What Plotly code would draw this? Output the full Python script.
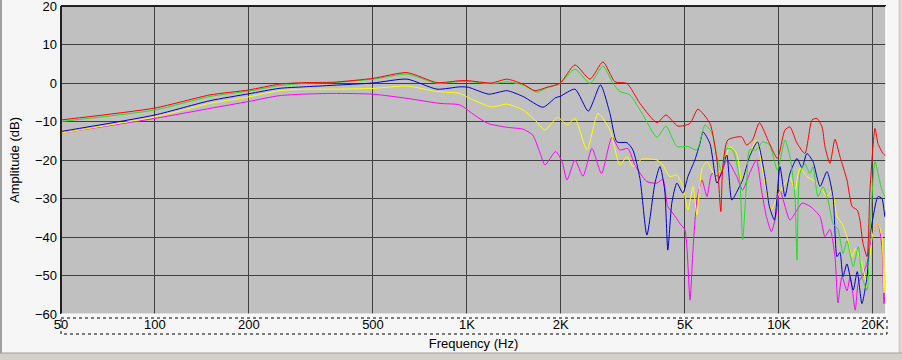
import plotly.graph_objects as go

# ---- data (frequency in Hz, amplitude in dB) ----
red_f = [50, 100, 150, 200, 250, 300, 372, 500, 643, 802, 950, 1010, 1198, 1344, 1514, 1652, 1808, 1988,
         2220, 2481, 2730, 2982, 3259, 3587, 4067, 4346, 4748, 5190, 5500, 6013, 6330, 6515, 6612, 6860,
         7597, 7880, 8234, 8664, 9327, 9891, 10460, 10850, 11430, 12120, 12770, 13250, 13750, 14050, 14580,
         15130, 15700, 16530, 17180, 17830, 18190, 18600, 19170, 19590, 20330, 20780, 21560, 22050]
red_db = [-9.6, -6.5, -3.1, -1.8, -0.3, 0.1, 0.2, 1.2, 2.7, 0.1, 0.6, 0.6, 0.0, 1.0, -0.3, -2.0, -1.1, -0.1,
          4.7, 1.0, 5.5, 0.3, -0.1, -5.3, -10.3, -8.3, -11.2, -10.5, -6.8, -10.5, -20.0, -33.4, -21.7, -14.8,
          -14.0, -16.1, -14.8, -10.3, -15.7, -19.6, -12.2, -11.4, -15.6, -18.3, -9.6, -9.2, -11.4, -16.5, -20.9,
          -14.6, -19.1, -25.2, -32.1, -33.0, -35.6, -41.6, -45.1, -27.8, -11.8, -15.7, -18.3, -19.0]

green_f = [50, 100, 150, 200, 250, 300, 372, 500, 643, 802, 950, 1010, 1198, 1344, 1514, 1677, 1808, 1988,
           2220, 2481, 2730, 2938, 3094, 3331, 3667, 4067, 4346, 4710, 5111, 5460, 5797, 6102, 6330, 6563,
           6810, 7117, 7487, 7652, 7880, 8055, 8475, 8858, 9327, 9891, 10460, 10850, 11260, 11430, 11680,
           12120, 12580, 12860, 13350, 13850, 14370, 14910, 15470, 16050, 16530, 17310, 17960, 18460, 19170,
           19590, 20330, 20780, 21400, 22050]
green_db = [-10.0, -7.0, -3.5, -2.1, -0.7, -0.1, 0.1, 1.0, 2.3, -0.1, 0.4, 0.4, -0.2, 0.3, -0.5, -2.4, -1.2, -0.1,
            3.6, -0.1, 4.4, -0.1, -2.2, -3.1, -8.3, -14.1, -11.2, -16.5, -16.5, -17.4, -10.9, -13.0, -19.1, -23.0,
            -17.0, -17.4, -25.2, -40.8, -26.0, -17.4, -17.4, -15.3, -16.0, -22.6, -14.8, -19.1, -29.5, -46.0, -23.5,
            -21.0, -23.5, -21.7, -29.5, -26.9, -30.4, -36.5, -38.0, -44.3, -41.0, -47.7, -42.5, -50.3, -53.8,
            -38.2, -20.4, -23.5, -27.8, -30.0]

blue_f = [50, 100, 150, 200, 250, 300, 372, 500, 643, 802, 950, 1010, 1176, 1344, 1514, 1754, 1925, 1988,
          2220, 2450, 2680, 2874, 3026, 3259, 3405, 3587, 3776, 4007, 4158, 4306, 4406, 4538, 4710, 4925, 5111,
          5380, 5585, 5712, 6013, 6330, 6563, 6810, 7065, 7382, 7652, 8055, 8537, 8989, 9327, 9676, 10080,
          10460, 10850, 11430, 11860, 12300, 12860, 13550, 14260, 14910, 15360, 15700, 16050, 16530, 17310,
          17830, 18460, 19170, 19590, 20030, 20780, 21400, 21880, 22050]
blue_db = [-12.6, -8.3, -4.6, -2.8, -1.4, -1.0, -0.6, 0.0, 1.0, -1.6, -1.0, -1.1, -2.9, -2.0, -3.5, -6.3, -3.8, -3.5,
           -1.6, -7.3, -0.5, -7.9, -15.3, -15.5, -17.4, -24.8, -39.5, -26.0, -21.7, -27.8, -43.4, -31.2, -26.0,
           -28.6, -24.3, -20.0, -15.7, -12.7, -15.7, -26.0, -23.0, -18.7, -30.4, -27.8, -25.2, -19.1, -15.3, -23.5,
           -32.1, -35.6, -21.7, -29.5, -23.5, -19.6, -22.0, -18.3, -20.4, -26.9, -23.0, -29.5, -45.1, -44.0, -50.3,
           -47.0, -53.8, -49.0, -57.3, -50.3, -39.9, -35.0, -29.5, -30.0, -34.7, -33.0]

yellow_f = [50, 100, 150, 200, 250, 300, 372, 500, 643, 802, 950, 1010, 1198, 1344, 1514, 1652, 1780, 1956,
            2094, 2220, 2426, 2632, 2874, 3094, 3259, 3405, 3640, 4067, 4247, 4472, 4710, 4925, 5111, 5305, 5460,
            5670, 5883, 6236, 6612, 6962, 7328, 7597, 7938, 8475, 8793, 9190, 9466, 9891, 10460, 10850, 11260,
            11680, 12300, 12860, 13550, 14260, 14800, 15360, 15930, 16530, 17180, 17570, 18460, 19170, 19590,
            20030, 20780, 21400, 21720, 22050]
yellow_db = [-13.0, -8.8, -5.3, -3.6, -2.0, -1.6, -1.6, -1.4, -0.8, -2.2, -2.7, -3.8, -6.2, -5.5, -7.0, -9.6, -12.2,
             -8.9, -10.9, -9.2, -17.4, -7.9, -12.2, -21.3, -19.1, -21.7, -19.8, -20.0, -21.3, -24.3, -23.9, -26.9,
             -33.0, -26.9, -34.3, -22.2, -20.4, -23.9, -21.7, -16.5, -18.3, -25.6, -20.4, -14.8, -20.9, -29.5, -33.0,
             -29.5, -26.0, -24.3, -27.8, -22.2, -24.3, -25.2, -26.9, -29.5, -27.8, -34.7, -36.5, -39.9, -45.1, -43.0,
             -46.8, -52.9, -45.0, -39.0, -36.5, -40.0, -54.5, -38.0]

magenta_f = [50, 100, 150, 200, 250, 300, 372, 500, 643, 820, 950, 1056, 1167, 1344, 1514, 1625, 1718, 1780,
             1925, 2018, 2094, 2220, 2356, 2517, 2700, 2917, 3094, 3283, 3455, 3776, 4067, 4247, 4406, 4571,
             4818, 5000, 5190, 5305, 5460, 5670, 5883, 6102, 6468, 6810, 7328, 7652, 8055, 8475, 8793, 9123,
             9466, 9817, 10080, 10850, 11430, 11860, 12580, 13550, 14050, 14580, 15130, 15470, 15930, 16530,
             16930, 17570, 17960, 18460, 19170, 19880, 20780, 21400, 21720, 22050]
magenta_db = [-13.0, -9.2, -6.6, -4.8, -3.3, -2.9, -2.7, -2.9, -4.0, -5.3, -5.7, -8.3, -10.5, -11.5, -12.0, -13.5,
              -18.3, -21.3, -17.8, -20.4, -25.2, -20.0, -24.2, -17.0, -23.5, -14.1, -17.4, -17.0, -21.3, -25.6,
              -26.0, -25.0, -32.1, -33.8, -36.5, -38.2, -56.4, -43.4, -30.4, -25.2, -29.5, -23.5, -24.3, -20.0,
              -24.3, -27.8, -23.5, -20.0, -27.8, -34.7, -38.6, -33.8, -27.8, -35.6, -33.0, -31.2, -32.0, -34.7,
              -39.9, -38.0, -45.1, -57.1, -50.3, -54.0, -50.3, -59.0, -52.0, -50.3, -46.8, -39.9, -36.5, -42.5,
              -57.3, -50.0]

x_tickvals = [50, 100, 200, 500, 1000, 2000, 5000, 10000, 20000]
x_ticktext = ["50", "100", "200", "500", "1K", "2K", "5K", "10K", "20K"]
y_tickvals = [20, 10, 0, -10, -20, -30, -40, -50, -60]

series = [
    ("magenta", magenta_f, magenta_db, "#ff00ff"),
    ("yellow", yellow_f, yellow_db, "#ffff00"),
    ("blue", blue_f, blue_db, "#0000d0"),
    ("green", green_f, green_db, "#22e022"),
    ("red", red_f, red_db, "#ff0000"),
]

fig = go.Figure()
for name, f, db, col in series:
    fig.add_trace(go.Scatter(x=f, y=db, mode="lines", name=name,
                             line=dict(color=col, width=1, shape="spline", smoothing=0.6),
                             showlegend=False))

FONT = "Liberation Sans, Arial, sans-serif"
L, R, T, B, W, H = 61, 16, 6, 46, 902, 360
pw, ph = W - L - R, H - T - B


def px(x):
    return (x - L) / pw


def py(y):
    return (H - B - y) / ph


fig.update_layout(
    width=W, height=H,
    margin=dict(l=L, r=R, t=T, b=B, autoexpand=False),
    paper_bgcolor="#f6f6f6",
    plot_bgcolor="#c0c0c0",
    font=dict(family=FONT, size=13, color="#000000"),
    xaxis=dict(type="log", range=[1.69897, 4.34341], tickvals=x_tickvals, ticktext=x_ticktext,
               showgrid=True, gridcolor="#404040", gridwidth=1, zeroline=False, automargin=False,
               ticks="", ticklabelstandoff=1, ticklabeloverflow="allow",
               tickfont=dict(size=13, family=FONT),
               title=dict(text="Frequency (Hz)", font=dict(size=13, family=FONT), standoff=7)),
    yaxis=dict(range=[-60, 20], tickvals=y_tickvals, showgrid=True, gridcolor="#404040", gridwidth=1,
               zeroline=False, automargin=False, ticks="", ticklabelstandoff=3, ticklabeloverflow="allow",
               tickfont=dict(size=13, family=FONT),
               title=dict(text="Amplitude (dB)", font=dict(size=13, family=FONT), standoff=12)),
    shapes=[
        # sunken border of the plot area
        dict(type="line", xref="paper", yref="paper", x0=0, x1=0, y0=0, y1=1, line=dict(color="#202020", width=2)),
        dict(type="line", xref="paper", yref="paper", x0=0, x1=1, y0=1, y1=1, line=dict(color="#202020", width=2)),
        dict(type="line", xref="paper", yref="paper", x0=1, x1=1, y0=0, y1=1, line=dict(color="#ffffff", width=1.5)),
        dict(type="line", xref="paper", yref="paper", x0=0, x1=1, y0=0, y1=0, line=dict(color="#ffffff", width=1)),
        # dotted focus rectangle around x tick labels
        dict(type="rect", xref="paper", yref="paper", x0=px(61), x1=px(887), y0=py(318), y1=py(334),
             line=dict(color="#000000", width=1, dash="dot")),
        # window frame
        dict(type="rect", xref="paper", yref="paper", x0=px(0), x1=px(902), y0=py(360), y1=py(353),
             line=dict(width=0), fillcolor="#d4d0c8", layer="below"),
        dict(type="line", xref="paper", yref="paper", x0=px(1), x1=px(1), y0=py(353), y1=py(0),
             line=dict(color="#a0a0a0", width=2)),
        dict(type="line", xref="paper", yref="paper", x0=px(900), x1=px(900), y0=py(353), y1=py(0),
             line=dict(color="#d4d0c8", width=3)),
        dict(type="line", xref="paper", yref="paper", x0=px(0), x1=px(902), y0=py(353), y1=py(353),
             line=dict(color="#a0a0a0", width=1)),
    ],
)
fig.write_html("out.html", config={"displayModeBar": False},
               post_script="document.body.style.margin='0px';")
